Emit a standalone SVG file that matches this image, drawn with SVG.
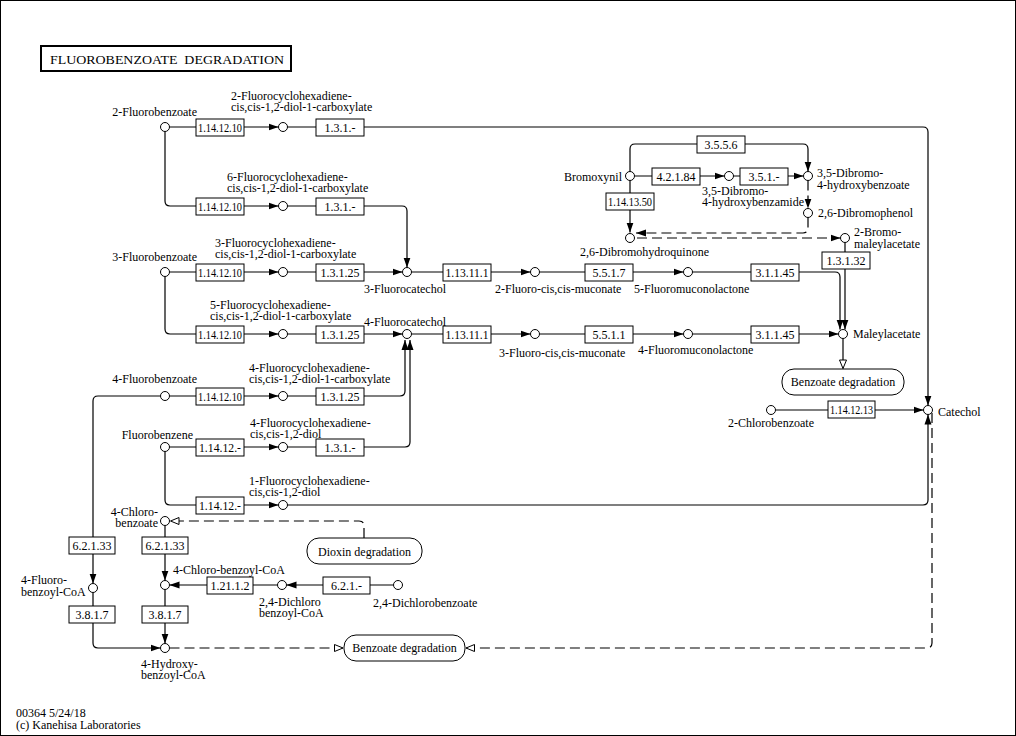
<svg xmlns="http://www.w3.org/2000/svg" width="1016" height="736" viewBox="0 0 1016 736" font-family="'Liberation Serif','Times New Roman',serif">
<style>
text{font-family:"Liberation Serif","Times New Roman",serif;font-size:12px;fill:#000}
.c{fill:#fff;stroke:#000;stroke-width:1}
.e rect{fill:#fff;stroke:#000;stroke-width:1}
.e text{text-anchor:middle}
.l{fill:none;stroke:#000;stroke-width:1.2}
.d{stroke-dasharray:10,5}
.p rect{fill:#fff;stroke:#000;stroke-width:1}
.p text{text-anchor:middle}
.r{text-anchor:end}
</style>
<defs>
<marker id="a" markerWidth="10" markerHeight="8" refX="10" refY="4" orient="auto" markerUnits="userSpaceOnUse"><path d="M0,0.5L10,4L0,7.5z" fill="#000"/></marker>
<marker id="o" markerWidth="11" markerHeight="9" refX="9.5" refY="4.5" orient="auto" markerUnits="userSpaceOnUse"><path d="M1,1L9.5,4.5L1,8z" fill="#fff" stroke="#000" stroke-width="1"/></marker>
</defs>
<rect x="0.5" y="0.5" width="1015" height="735" fill="#fff" stroke="#000" stroke-width="1"/>
<g id="title"><rect x="41" y="46" width="250" height="25" fill="#fff" stroke="#000" stroke-width="2"/><text x="50" y="64" font-size="14" textLength="234" lengthAdjust="spacingAndGlyphs" xml:space="preserve">FLUOROBENZOATE  DEGRADATION</text></g>

<g id="connectors">
<path class="l" marker-end="url(#a)" d="M169.5,127H278.5"/>
<path class="l" marker-end="url(#a)" d="M287.5,127H923Q928,127 928,132V405.5"/>
<path class="l" marker-end="url(#a)" d="M165,131.5V201Q165,206 170,206H278.5"/>
<path class="l" marker-end="url(#a)" d="M287.5,206H402Q407,206 407,211V267.5"/>
<path class="l" marker-end="url(#a)" d="M169.5,272H278.5"/>
<path class="l" marker-end="url(#a)" d="M287.5,272H402.5"/>
<path class="l" marker-end="url(#a)" d="M411.5,272H530.5"/>
<path class="l" marker-end="url(#a)" d="M539.5,272H683.5"/>
<path class="l" marker-end="url(#a)" d="M692.5,272H835Q840,272 840,277V329.5"/>
<path class="l" marker-end="url(#a)" d="M165,276.5V329Q165,334 170,334H278.5"/>
<path class="l" marker-end="url(#a)" d="M287.5,334H402.5"/>
<path class="l" marker-end="url(#a)" d="M411.5,334H530.5"/>
<path class="l" marker-end="url(#a)" d="M539.5,334H683.5"/>
<path class="l" marker-end="url(#a)" d="M692.5,334H838.5"/>
<path class="l" marker-end="url(#a)" d="M845,242.5V329.5"/>
<path class="l" marker-end="url(#o)" d="M843,338.5V368.5"/>
<path class="l" marker-end="url(#a)" d="M160.5,396H98Q93,396 93,401V583.5"/>
<path class="l" marker-end="url(#a)" d="M169.5,396H278.5"/>
<path class="l" marker-end="url(#a)" d="M287.5,396H400Q405,396 405,391V340"/>
<path class="l" marker-end="url(#a)" d="M169.5,447H278.5"/>
<path class="l" marker-end="url(#a)" d="M287.5,447H405Q410,447 410,442V340"/>
<path class="l" marker-end="url(#a)" d="M165,451.5V500Q165,505 170,505H278.5"/>
<path class="l" marker-end="url(#a)" d="M287.5,505H923Q928,505 928,500V414.5"/>
<path class="l" marker-end="url(#a)" d="M775.5,410H923.5"/>
<path class="l d" marker-end="url(#o)" d="M932,413V643Q932,648 927,648H466"/>
<path class="l" marker-end="url(#a)" d="M630,171.5V149Q630,144 635,144H803Q808,144 808,149V171.5"/>
<path class="l" marker-end="url(#a)" d="M634.5,176H724.5"/>
<path class="l" marker-end="url(#a)" d="M733.5,176H803.5"/>
<path class="l d" marker-end="url(#a)" d="M808,180.5V208.5"/>
<path class="l d" marker-end="url(#a)" d="M808,217.5V228Q808,233 803,233H636"/>
<path class="l d" marker-end="url(#a)" d="M637,238H840.5"/>
<path class="l" marker-end="url(#a)" d="M630,180.5V232.5"/>
<path class="l d" marker-end="url(#o)" d="M364,538V526Q364,521 359,521H170.5"/>
<path class="l" marker-end="url(#a)" d="M165,525.5V580.5"/>
<path class="l" marker-end="url(#a)" d="M93,592.5V643Q93,648 98,648H160.5"/>
<path class="l" marker-end="url(#a)" d="M165,589.5V643.5"/>
<path class="l" marker-end="url(#a)" d="M277.5,585H169.5"/>
<path class="l" marker-end="url(#a)" d="M393.5,585H286.5"/>
<path class="l d" marker-end="url(#o)" d="M169.5,648H343"/>
</g>

<g id="ec">
<g class="e" id="ec1"><rect x="196" y="119" width="48" height="17"/><text x="220" y="132" textLength="44" lengthAdjust="spacingAndGlyphs">1.14.12.10</text></g>
<g class="e" id="ec2"><rect x="316" y="119" width="48" height="17"/><text x="340" y="132">1.3.1.-</text></g>
<g class="e" id="ec3"><rect x="196" y="198" width="48" height="17"/><text x="220" y="211" textLength="44" lengthAdjust="spacingAndGlyphs">1.14.12.10</text></g>
<g class="e" id="ec4"><rect x="316" y="198" width="48" height="17"/><text x="340" y="211">1.3.1.-</text></g>
<g class="e" id="ec5"><rect x="196" y="264" width="48" height="17"/><text x="220" y="277" textLength="44" lengthAdjust="spacingAndGlyphs">1.14.12.10</text></g>
<g class="e" id="ec6"><rect x="316" y="264" width="48" height="17"/><text x="340" y="277">1.3.1.25</text></g>
<g class="e" id="ec7"><rect x="443" y="264" width="48" height="17"/><text x="467" y="277" textLength="43" lengthAdjust="spacingAndGlyphs">1.13.11.1</text></g>
<g class="e" id="ec8"><rect x="585" y="264" width="48" height="17"/><text x="609" y="277">5.5.1.7</text></g>
<g class="e" id="ec9"><rect x="751" y="264" width="48" height="17"/><text x="775" y="277">3.1.1.45</text></g>
<g class="e" id="ec10"><rect x="196" y="326" width="48" height="17"/><text x="220" y="339" textLength="44" lengthAdjust="spacingAndGlyphs">1.14.12.10</text></g>
<g class="e" id="ec11"><rect x="316" y="326" width="48" height="17"/><text x="340" y="339">1.3.1.25</text></g>
<g class="e" id="ec12"><rect x="443" y="326" width="48" height="17"/><text x="467" y="339" textLength="43" lengthAdjust="spacingAndGlyphs">1.13.11.1</text></g>
<g class="e" id="ec13"><rect x="585" y="326" width="48" height="17"/><text x="609" y="339">5.5.1.1</text></g>
<g class="e" id="ec14"><rect x="751" y="326" width="48" height="17"/><text x="775" y="339">3.1.1.45</text></g>
<g class="e" id="ec15"><rect x="196" y="388" width="48" height="17"/><text x="220" y="401" textLength="44" lengthAdjust="spacingAndGlyphs">1.14.12.10</text></g>
<g class="e" id="ec16"><rect x="316" y="388" width="48" height="17"/><text x="340" y="401">1.3.1.25</text></g>
<g class="e" id="ec17"><rect x="196" y="439" width="48" height="17"/><text x="220" y="452" textLength="42" lengthAdjust="spacingAndGlyphs">1.14.12.-</text></g>
<g class="e" id="ec18"><rect x="316" y="439" width="48" height="17"/><text x="340" y="452">1.3.1.-</text></g>
<g class="e" id="ec19"><rect x="196" y="497" width="48" height="17"/><text x="220" y="510" textLength="42" lengthAdjust="spacingAndGlyphs">1.14.12.-</text></g>
<g class="e" id="ec20"><rect x="697" y="136" width="48" height="17"/><text x="721" y="149">3.5.5.6</text></g>
<g class="e" id="ec21"><rect x="652" y="168" width="48" height="17"/><text x="676" y="181">4.2.1.84</text></g>
<g class="e" id="ec22"><rect x="740" y="168" width="48" height="17"/><text x="764" y="181">3.5.1.-</text></g>
<g class="e" id="ec23"><rect x="606" y="193" width="48" height="17"/><text x="630" y="206" textLength="44" lengthAdjust="spacingAndGlyphs">1.14.13.50</text></g>
<g class="e" id="ec24"><rect x="822" y="252" width="48" height="17"/><text x="846" y="265">1.3.1.32</text></g>
<g class="e" id="ec25"><rect x="828" y="401" width="47" height="17"/><text x="851.5" y="414" textLength="43" lengthAdjust="spacingAndGlyphs">1.14.12.13</text></g>
<g class="e" id="ec26"><rect x="69" y="537" width="46" height="17"/><text x="92" y="550">6.2.1.33</text></g>
<g class="e" id="ec27"><rect x="142" y="537" width="46" height="17"/><text x="165" y="550">6.2.1.33</text></g>
<g class="e" id="ec28"><rect x="207" y="577" width="46" height="17"/><text x="230" y="590">1.21.1.2</text></g>
<g class="e" id="ec29"><rect x="323" y="577" width="47" height="17"/><text x="346.5" y="590">6.2.1.-</text></g>
<g class="e" id="ec30"><rect x="69" y="606" width="46" height="17"/><text x="92" y="619">3.8.1.7</text></g>
<g class="e" id="ec31"><rect x="142" y="606" width="46" height="17"/><text x="165" y="619">3.8.1.7</text></g>
</g>

<g id="compounds">
<g id="c-2fb"><circle class="c" cx="165" cy="127" r="4.5"/><text x="197" y="116" class="r">2-Fluorobenzoate</text></g>
<g id="c-2fcd"><circle class="c" cx="283" cy="127" r="4.5"/><text x="231" y="100">2-Fluorocyclohexadiene-<tspan x="231" dy="11">cis,cis-1,2-diol-1-carboxylate</tspan></text></g>
<g id="c-6fcd"><circle class="c" cx="283" cy="206" r="4.5"/><text x="227" y="181">6-Fluorocyclohexadiene-<tspan x="227" dy="11">cis,cis-1,2-diol-1-carboxylate</tspan></text></g>
<g id="c-3fb"><circle class="c" cx="165" cy="272" r="4.5"/><text x="197" y="261" class="r">3-Fluorobenzoate</text></g>
<g id="c-3fcd"><circle class="c" cx="283" cy="272" r="4.5"/><text x="215" y="247">3-Fluorocyclohexadiene-<tspan x="215" dy="11">cis,cis-1,2-diol-1-carboxylate</tspan></text></g>
<g id="c-3fc"><circle class="c" cx="407" cy="272" r="4.5"/><text x="364" y="293">3-Fluorocatechol</text></g>
<g id="c-2fm"><circle class="c" cx="535" cy="272" r="4.5"/><text x="495" y="293">2-Fluoro-cis,cis-muconate</text></g>
<g id="c-5fml"><circle class="c" cx="688" cy="272" r="4.5"/><text x="634" y="293">5-Fluoromuconolactone</text></g>
<g id="c-5fcd"><circle class="c" cx="283" cy="334" r="4.5"/><text x="210" y="309">5-Fluorocyclohexadiene-<tspan x="210" dy="11">cis,cis-1,2-diol-1-carboxylate</tspan></text></g>
<g id="c-4fc"><circle class="c" cx="407" cy="334" r="4.5"/><text x="364" y="326">4-Fluorocatechol</text></g>
<g id="c-3fm"><circle class="c" cx="535" cy="334" r="4.5"/><text x="499" y="357">3-Fluoro-cis,cis-muconate</text></g>
<g id="c-4fml"><circle class="c" cx="688" cy="334" r="4.5"/><text x="638" y="354">4-Fluoromuconolactone</text></g>
<g id="c-mal"><circle class="c" cx="843" cy="334" r="4.5"/><text x="853" y="338">Maleylacetate</text></g>
<g id="c-brx"><circle class="c" cx="630" cy="176" r="4.5"/><text x="622" y="181" class="r">Bromoxynil</text></g>
<g id="c-dbhb"><circle class="c" cx="808" cy="176" r="4.5"/><text x="817" y="177">3,5-Dibromo-<tspan x="817" dy="12">4-hydroxybenzoate</tspan></text></g>
<g id="c-dbha"><circle class="c" cx="729" cy="176" r="4.5"/><text x="702" y="195">3,5-Dibromo-<tspan x="702" dy="11">4-hydroxybenzamide</tspan></text></g>
<g id="c-dbp"><circle class="c" cx="808" cy="213" r="4.5"/><text x="818" y="217">2,6-Dibromophenol</text></g>
<g id="c-dbhq"><circle class="c" cx="630" cy="238" r="4.5"/><text x="580" y="256">2,6-Dibromohydroquinone</text></g>
<g id="c-bmal"><circle class="c" cx="845" cy="238" r="4.5"/><text x="854" y="236">2-Bromo-<tspan x="854" dy="12">maleylacetate</tspan></text></g>
<g id="c-4fb"><circle class="c" cx="165" cy="396" r="4.5"/><text x="197" y="383" class="r">4-Fluorobenzoate</text></g>
<g id="c-4fcd"><circle class="c" cx="283" cy="396" r="4.5"/><text x="249" y="372">4-Fluorocyclohexadiene-<tspan x="249" dy="11">cis,cis-1,2-diol-1-carboxylate</tspan></text></g>
<g id="c-fbz"><circle class="c" cx="165" cy="447" r="4.5"/><text x="193" y="439" class="r">Fluorobenzene</text></g>
<g id="c-4fcdd"><circle class="c" cx="283" cy="447" r="4.5"/><text x="250" y="427">4-Fluorocyclohexadiene-<tspan x="250" dy="11">cis,cis-1,2-diol</tspan></text></g>
<g id="c-1fcdd"><circle class="c" cx="283" cy="505" r="4.5"/><text x="249" y="485">1-Fluorocyclohexadiene-<tspan x="249" dy="11">cis,cis-1,2-diol</tspan></text></g>
<g id="c-cat"><circle class="c" cx="928" cy="410" r="4.5"/><text x="938" y="416">Catechol</text></g>
<g id="c-2cb"><circle class="c" cx="771" cy="410" r="4.5"/><text x="728" y="427">2-Chlorobenzoate</text></g>
<g id="c-4cb"><circle class="c" cx="165" cy="521" r="4.5"/><text x="158" y="516" class="r">4-Chloro-<tspan x="158" dy="11">benzoate</tspan></text></g>
<g id="c-4fbc"><circle class="c" cx="93" cy="588" r="4.5"/><text x="21" y="584">4-Fluoro-<tspan x="21" dy="12">benzoyl-CoA</tspan></text></g>
<g id="c-4cbc"><circle class="c" cx="165" cy="585" r="4.5"/><text x="173" y="574">4-Chloro-benzoyl-CoA</text></g>
<g id="c-24dbc"><circle class="c" cx="282" cy="585" r="4.5"/><text x="259" y="606">2,4-Dichloro<tspan x="259" dy="11">benzoyl-CoA</tspan></text></g>
<g id="c-24db"><circle class="c" cx="398" cy="585" r="4.5"/><text x="373" y="607">2,4-Dichlorobenzoate</text></g>
<g id="c-4hbc"><circle class="c" cx="165" cy="648" r="4.5"/><text x="141" y="668">4-Hydroxy-<tspan x="141" dy="11">benzoyl-CoA</tspan></text></g>
</g>

<g id="pathways">
<g class="p" id="p-benz1"><rect x="782" y="369" width="122" height="26" rx="12"/><text x="843" y="386">Benzoate degradation</text></g>
<g class="p" id="p-diox"><rect x="307" y="538" width="115" height="26" rx="12"/><text x="364.5" y="556">Dioxin degradation</text></g>
<g class="p" id="p-benz2"><rect x="344" y="635" width="121" height="26" rx="12"/><text x="404.5" y="652">Benzoate degradation</text></g>
</g>

<g id="footer"><text x="16" y="717">00364 5/24/18<tspan x="16" dy="12">(c) Kanehisa Laboratories</tspan></text></g>
</svg>
